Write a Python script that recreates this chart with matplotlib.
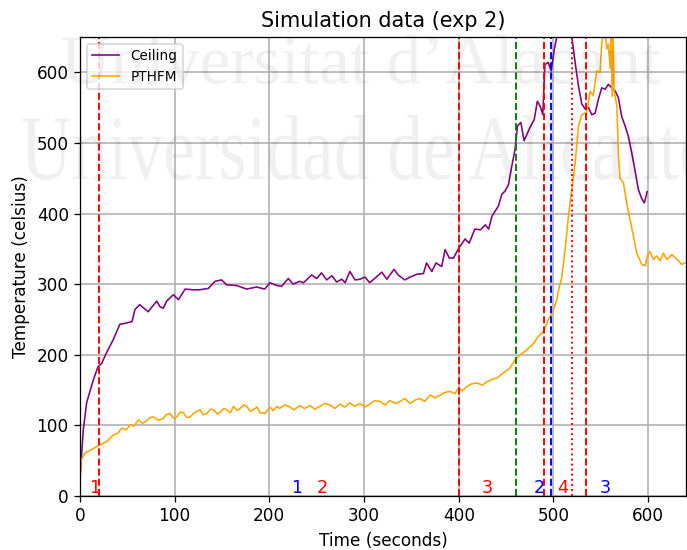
import matplotlib
matplotlib.use("Agg")
import matplotlib.pyplot as plt
from matplotlib.textpath import TextPath
from matplotlib.patches import PathPatch
from matplotlib.transforms import Affine2D
from matplotlib.font_manager import FontProperties

# ── data ───────────────────────────────────────────────────────────
ceiling_t = [0, 3.5, 7, 14, 19, 23, 28, 35, 42, 49, 55, 58, 63, 72, 81, 84.5,
             88, 91.5, 98.6, 104, 111, 119.6, 126, 135.6, 142.6, 149.6, 154.9,
             165.5, 176, 186.6, 195, 200.7, 208, 213, 220, 225, 232, 236,
             244.7, 250, 255, 260.5, 266, 271, 276.5, 280, 285, 290.5, 295.8,
             301, 306, 312, 318.7, 324, 331.7, 336, 343, 348.6, 355.6, 362.7,
             366, 371.6, 376, 382, 385.6, 390, 394.5, 400, 406.7, 411, 417,
             423, 428, 431.6, 435, 438.7, 442, 445.4, 449, 452.5, 456, 459.5,
             462, 465.6, 469, 472.6, 476, 479.7, 483, 486, 488.7, 491, 494.5,
             497.6, 501, 503.5, 508, 513, 519.3, 522.9, 526.4, 530, 533.5, 537,
             540.5, 544, 547.5, 551, 554.6, 558, 561.6, 565, 568.6, 572, 575.7,
             579, 582.7, 586, 589.7, 593, 596, 599]
ceiling_temp = [25, 94, 132, 164, 183, 188, 203, 221, 243, 245, 247, 264, 271,
                261, 276, 268, 266, 276, 285, 278, 293, 292, 292, 294, 304, 306,
                299, 298, 293, 296, 293, 302, 298, 297, 308, 300, 304, 302, 313,
                308, 316, 306, 312, 303, 307, 302, 318, 306, 307, 310, 302, 309,
                317, 307, 321, 313, 306, 310, 314, 315, 330, 318, 330, 325, 349,
                337, 337, 351, 364, 358, 378, 377, 384, 378, 396, 404, 411, 427,
                432, 441, 467, 491, 524, 529, 503, 514, 524, 533, 559, 552, 540,
                611, 614, 602, 633, 650, 685, 690, 651, 614, 581, 555, 548, 550,
                540, 542, 562, 578, 576, 583, 578, 574, 564, 538, 524, 510, 486,
                462, 434, 422, 415, 431]

pthfm_t = [0, 1, 5.3, 10, 17.6, 22, 28, 35, 40, 44, 49, 53, 57, 61.6, 66, 70,
           74, 77.5, 83, 88, 91, 95, 99, 102, 106, 109, 113, 116, 121, 126.8,
           130, 134, 138, 141, 145, 148, 152, 155, 159, 162, 166, 169, 173,
           176, 180, 183, 187, 190, 195.6, 200.7, 204, 208, 211, 216, 221.7,
           226, 232, 237, 243, 248, 253.5, 258, 264, 269, 274.6, 280, 285, 290,
           295.8, 301, 306, 311, 317, 322, 327.6, 333, 338, 343, 348.6, 354,
           359, 364, 370, 375, 380.6, 386, 391, 396, 399.6, 404, 408.5, 414,
           419, 425, 430, 435, 440, 447, 454, 459.5, 465, 471.8, 479, 484,
           489.4, 494.7, 499.3, 503.5, 506.3, 508.8, 512.3, 515.8, 519.4, 523,
           526.4, 530, 535, 538.7, 542, 545.8, 549.3, 551, 554.6, 556.3, 558,
           560, 561, 562, 563, 564, 567, 568.7, 570.4, 574, 577.4, 581, 584.5,
           588, 593.3, 597, 599, 602, 605.6, 609, 612.7, 616, 619.8, 625,
           630.6, 635.5, 639]
pthfm_temp = [20, 50, 61, 64, 70, 73, 77, 86, 89, 96, 94, 101, 99, 108, 103,
              106, 111, 112, 107, 110, 115, 117, 110, 112, 119, 118, 111, 112,
              118, 122, 115, 117, 123, 122, 116, 119, 124, 122, 118, 127, 121,
              124, 129, 127, 120, 122, 126, 118, 117, 126, 121, 127, 124, 129,
              126, 122, 128, 124, 128, 123, 127, 131, 129, 124, 130, 126, 132,
              127, 131, 126, 130, 135, 134, 129, 135, 131, 134, 138, 131, 136,
              138, 134, 143, 139, 143, 147, 148, 145, 153, 149, 155, 159, 160,
              157, 162, 165, 167, 174, 181, 193, 200, 207, 216, 226, 233, 250,
              261, 278, 297, 309, 349, 396, 434, 472, 524, 540, 543, 573, 567,
              602, 600, 642, 660, 633, 640, 605, 680, 566, 650, 575, 552, 481,
              450, 443, 415, 391, 368, 344, 328, 326, 340, 346, 335, 340, 333,
              344, 335, 342, 335, 328, 330]

event_x = [20, 400, 460, 490, 497.5, 519.5, 534.5]
event_color = ["red", "red", "green", "red", "blue", "red", "red"]
event_style = ["--", "--", "--", "--", "--", ":", "--"]

mark_x = [15, 229, 256, 430, 485, 510, 555]
mark_text = ["1", "1", "2", "3", "2", "4", "3"]
mark_color = ["red", "blue", "red", "red", "blue", "red", "blue"]

# ── figure ─────────────────────────────────────────────────────────
plt.rcParams["font.size"] = 10.6
W_PX, H_PX, DPI = 687, 550, 115
fig = plt.figure(figsize=(W_PX / DPI, H_PX / DPI), dpi=DPI)
ax = fig.add_axes([80 / W_PX, 1 - 496 / H_PX, 606 / W_PX, 459 / H_PX])

ax.plot(ceiling_t, ceiling_temp, color="purple", lw=1.0, label="Ceiling")
ax.plot(pthfm_t, pthfm_temp, color="orange", lw=1.0, label="PTHFM")

for x, c, ls in zip(event_x, event_color, event_style):
    ax.axvline(x, color=c, ls=ls, lw=1.2)
for x, s, c in zip(mark_x, mark_text, mark_color):
    ax.text(x, 12, s, color=c, fontsize=11, ha="center", va="center")

ax.set_xlim(0, 640)
ax.set_ylim(0, 650)
ax.set_xticks(range(0, 601, 100))
ax.set_yticks(range(0, 601, 100))
ax.grid(True, color="#b0b0b0", lw=1.0)
ax.set_title("Simulation data (exp 2)", fontsize=13)
ax.set_xlabel("Time (seconds)")
ax.set_ylabel("Temperature (celsius)")
ax.legend(loc="upper left", fontsize=8.5)

# ── watermark ──────────────────────────────────────────────────────
def watermark(text, x0, x1, ytop, ybase):
    tp = TextPath((0, 0), text, size=100,
                  prop=FontProperties(family="Liberation Serif"))
    bb = tp.get_extents()
    tr = (Affine2D().translate(-bb.x0, -bb.y0)
          .scale((x1 - x0) / bb.width, (ybase - ytop) / bb.height)
          .translate(x0, H_PX - ybase))
    fig.add_artist(PathPatch(tp, transform=tr, facecolor="black",
                             edgecolor="none", alpha=0.06, zorder=10))

watermark("Universitat d\u2019Alacant", 62, 660, 35, 84)
watermark("Universidad de Alicante", 22, 708, 115, 180)

fig.savefig("out.png", dpi=DPI, facecolor="white")
